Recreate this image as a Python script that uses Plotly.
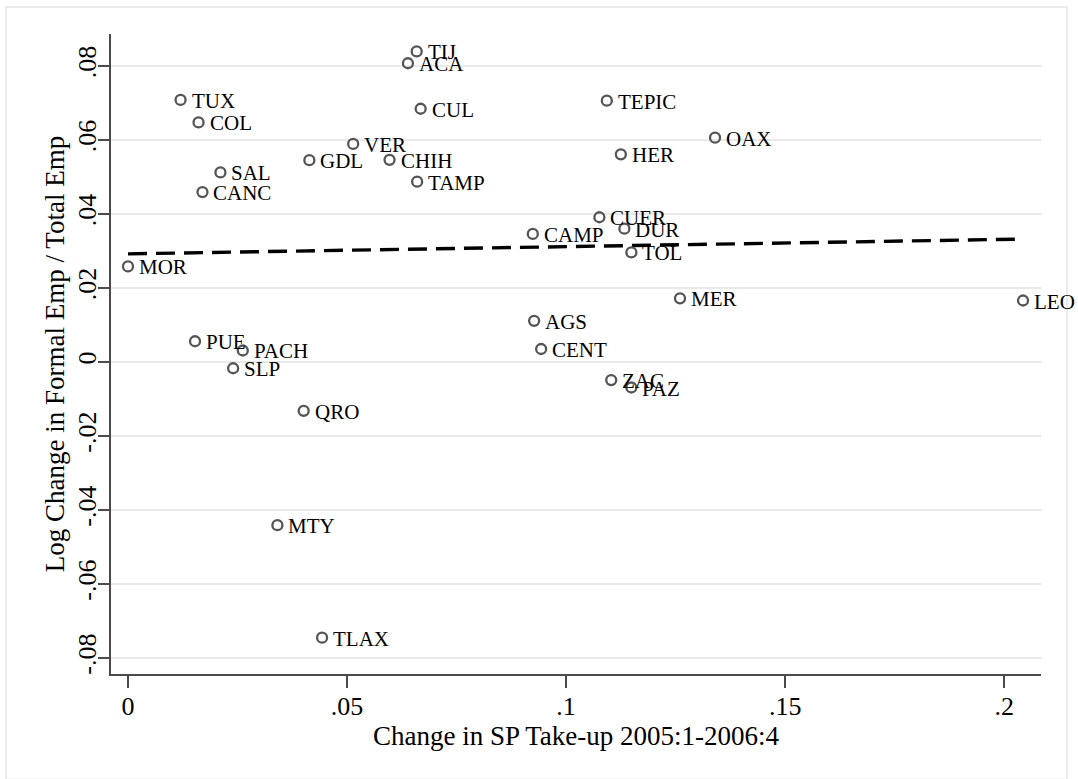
import plotly.graph_objects as go

# ---- data ----
cities = ["TIJ", "ACA", "TUX", "COL", "CUL", "VER", "GDL", "CHIH", "SAL", "CANC",
          "TAMP", "MOR", "PUE", "PACH", "SLP", "CAMP", "AGS", "CENT", "TEPIC", "OAX",
          "HER", "CUER", "DUR", "TOL", "MER", "LEO", "ZAC", "PAZ", "QRO", "MTY", "TLAX"]
sp_takeup_change = [0.0659, 0.0639, 0.0120, 0.0161, 0.0668, 0.0514, 0.0414, 0.0597, 0.0211, 0.0170,
                    0.0660, 0.0000, 0.0153, 0.0262, 0.0240, 0.0924, 0.0927, 0.0943, 0.1093, 0.1340,
                    0.1125, 0.1076, 0.1133, 0.1149, 0.1260, 0.2043, 0.1103, 0.1149, 0.0401, 0.0341, 0.0443]
log_change_formal = [0.0839, 0.0807, 0.0708, 0.0647, 0.0684, 0.0589, 0.0545, 0.0546, 0.0512, 0.0459,
                     0.0487, 0.0258, 0.0056, 0.0031, -0.0017, 0.0346, 0.0111, 0.0035, 0.0706, 0.0606,
                     0.0561, 0.0391, 0.0360, 0.0296, 0.0172, 0.0166, -0.0049, -0.0069, -0.0132, -0.0441, -0.0745]

fit_x = [0.0, 0.2043]
fit_y = [0.0292, 0.0332]

x_tickvals = [0, 0.05, 0.1, 0.15, 0.2]
x_ticktext = ["0", ".05", ".1", ".15", ".2"]
y_tickvals = [-0.08, -0.06, -0.04, -0.02, 0, 0.02, 0.04, 0.06, 0.08]
y_ticktext = ["-.08", "-.06", "-.04", "-.02", "0", ".02", ".04", ".06", ".08"]

FONT = "Liberation Serif, Times New Roman, serif"
AXIS_COLOR = "#4a4a4a"

fig = go.Figure()

fig.add_trace(go.Scatter(
    x=fit_x, y=fit_y, mode="lines",
    line=dict(color="black", width=3.4, dash="19px,9px"),
    hoverinfo="skip", showlegend=False,
))

fig.add_trace(go.Scatter(
    x=sp_takeup_change, y=log_change_formal, mode="markers",
    marker=dict(symbol="circle-open", size=10, color="#555555", line=dict(width=2.3, color="#555555")),
    text=cities, hoverinfo="text+x+y",
    showlegend=False, cliponaxis=False,
))

# marker labels, placed to the right of each point (Stata mlabposition 3)
annotations = [
    dict(x=xv, y=yv, xref="x", yref="y", text=name, showarrow=False,
         xanchor="left", yanchor="middle", xshift=9, yshift=-1,
         font=dict(family=FONT, size=21, color="black"))
    for name, xv, yv in zip(cities, sp_takeup_change, log_change_formal)
]

fig.update_layout(
    width=1078, height=779,
    margin=dict(l=111, r=37, t=34, b=105, autoexpand=False),
    paper_bgcolor="white", plot_bgcolor="white",
    font=dict(family=FONT, color="black"),
    annotations=annotations,
    shapes=[dict(type="rect", xref="paper", yref="paper",
                 x0=-0.1129, x1=1.028, y0=-0.165, y1=1.0422,
                 line=dict(color="#ebebeb", width=2), layer="below")],
)

fig.update_xaxes(
    range=[-0.00388, 0.2084],
    tickvals=x_tickvals, ticktext=x_ticktext,
    showgrid=False, zeroline=False,
    showline=True, linecolor=AXIS_COLOR, linewidth=1.6,
    ticks="outside", ticklen=12, tickwidth=1.6, tickcolor=AXIS_COLOR,
    tickfont=dict(family=FONT, size=26, color="black"),
    ticklabelstandoff=-4,
    title=dict(text="Change in SP Take-up 2005:1-2006:4",
               font=dict(family=FONT, size=27, color="black"), standoff=0),
)

fig.update_yaxes(
    range=[-0.0843, 0.0886],
    tickvals=y_tickvals, ticktext=y_ticktext, tickangle=-90,
    showgrid=True, gridcolor="#e9e9e9", gridwidth=1.6, zeroline=False,
    showline=True, linecolor=AXIS_COLOR, linewidth=1.6,
    ticks="outside", ticklen=11, tickwidth=1.6, tickcolor=AXIS_COLOR,
    tickfont=dict(family=FONT, size=26, color="black"),
    ticklabelstandoff=-8,
    title=dict(text="Log Change in Formal Emp / Total Emp",
               font=dict(family=FONT, size=27, color="black"), standoff=0),
)

fig.write_html("out.html", config={"displayModeBar": False},
               post_script="document.body.style.margin='0';document.body.style.overflow='hidden';")
